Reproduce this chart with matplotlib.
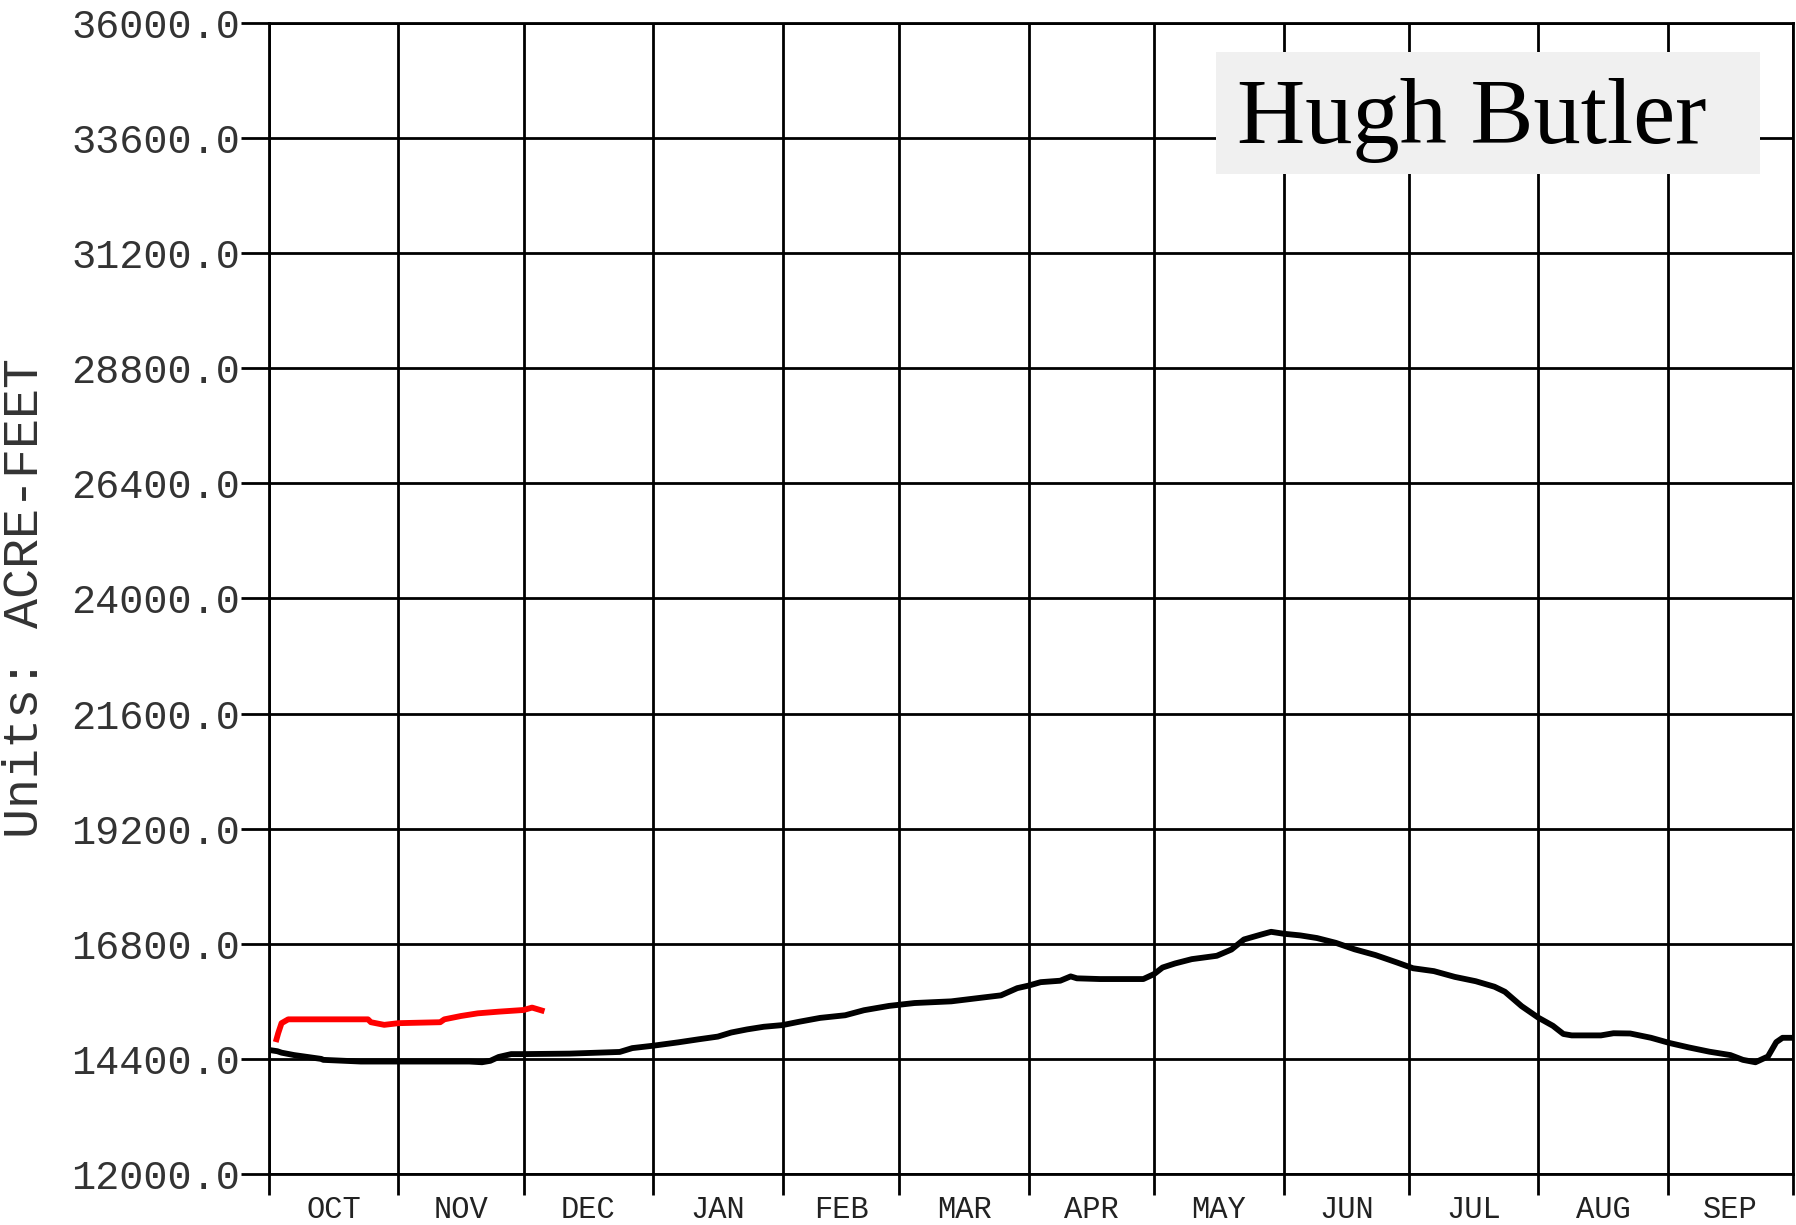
import matplotlib
matplotlib.use("Agg")
import matplotlib.pyplot as plt
from matplotlib.patches import Rectangle

# month labels and lengths (water year, Oct -> Sep)
months = ["OCT", "NOV", "DEC", "JAN", "FEB", "MAR", "APR", "MAY", "JUN", "JUL", "AUG", "SEP"]
month_days = [31, 30, 31, 31, 28, 31, 30, 31, 30, 31, 31, 30]

y_ticks = [12000, 14400, 16800, 19200, 21600, 24000, 26400, 28800, 31200, 33600, 36000]

# last year storage (black), day of water year vs acre-feet
prev_days = [0.5, 2, 3, 6, 12.5, 13, 22, 31, 48, 51, 53, 55, 58, 61, 72, 84, 87, 92, 98, 103,
             107.5, 110.7, 114.5, 118.5, 123, 127, 132, 138, 142.5, 148.5, 154.6, 163.4, 170.5,
             175.3, 179.2, 182, 184.8, 189.5, 192, 193.5, 199, 209.4, 212, 214, 217, 221, 227,
             230.5, 233.5, 237.5, 240, 243, 247, 251, 255.5, 260, 265, 270, 274, 279, 284, 289,
             293.5, 296, 300, 304, 307.5, 310, 312, 319, 322, 326, 331, 335.5, 340, 345, 350,
             353, 356, 359, 361, 362.5, 365]
prev_vals = [14580, 14560, 14530, 14480, 14400, 14380, 14345, 14345, 14345, 14330, 14360, 14440,
             14500, 14500, 14510, 14545, 14625, 14675, 14745, 14810, 14865, 14950, 15015, 15070,
             15105, 15175, 15255, 15310, 15415, 15505, 15565, 15600, 15675, 15725, 15875, 15930,
             16000, 16030, 16120, 16080, 16065, 16065, 16170, 16305, 16390, 16480, 16550, 16680,
             16890, 16990, 17050, 17010, 16975, 16920, 16820, 16685, 16565, 16415, 16290, 16230,
             16110, 16020, 15905, 15800, 15500, 15260, 15090, 14920, 14890, 14890, 14935, 14930,
             14840, 14730, 14640, 14550, 14480, 14380, 14330, 14450, 14750, 14840, 14840]

# current year storage (red)
cur_days = [1.8, 2.2, 3, 4.6, 14, 23.7, 24.4, 27.6, 31, 41, 42, 46, 50, 55, 61, 63, 65.3]
cur_vals = [14810, 14935, 15145, 15225, 15225, 15225, 15165, 15110, 15145, 15165, 15225, 15295,
            15350, 15385, 15420, 15470, 15410]

W, H = 1796, 1225
fig = plt.figure(figsize=(W / 100, H / 100), dpi=100)
ax = fig.add_axes([269 / W, 1 - 1174 / H, (1793 - 269) / W, (1174 - 23) / H])

bounds = [0]
for d in month_days:
    bounds.append(bounds[-1] + d)
centers = [(bounds[i] + bounds[i + 1]) / 2 for i in range(len(months))]

ax.plot(prev_days, prev_vals, color="black", lw=4.2, zorder=3)
ax.plot(cur_days, cur_vals, color="#ff0000", lw=4.2, zorder=3)

ax.set_xlim(0, bounds[-1])
ax.set_ylim(12000, 36000)

# grid at month boundaries and y ticks
ax.set_xticks(bounds)
ax.set_xticklabels([])
ax.set_xticks(centers, minor=True)
ax.set_xticklabels(months, minor=True, family="Liberation Mono", fontsize=22, color="#222222")
ax.tick_params(axis="x", which="major", length=15, width=2, color="black")
ax.tick_params(axis="x", which="minor", length=0, pad=15)
ax.set_yticks(y_ticks)
ax.set_yticklabels(["%.1f" % v for v in y_ticks], family="Liberation Mono", fontsize=29,
                   color="#333333")
ax.tick_params(axis="y", length=20, width=2, color="black", pad=1)
ax.grid(True, which="major", color="black", lw=2)
for s in ax.spines.values():
    s.set_linewidth(2)
    s.set_color("black")

ax.set_ylabel("Units: ACRE-FEET", family="Liberation Mono", fontsize=36, color="#333333")
ax.yaxis.set_label_coords(-0.145, 0.5)

# station name box
fig.patches.append(Rectangle((1216 / W, 1 - 174 / H), 544 / W, 122 / H,
                             transform=fig.transFigure, facecolor="#f0f0f0",
                             edgecolor="none", zorder=5))
fig.text(1237 / W, 1 - 143 / H, "Hugh Butler", family="Liberation Serif", fontsize=68,
         color="black", va="baseline", ha="left", zorder=6)

fig.savefig("out.png", dpi=100)
